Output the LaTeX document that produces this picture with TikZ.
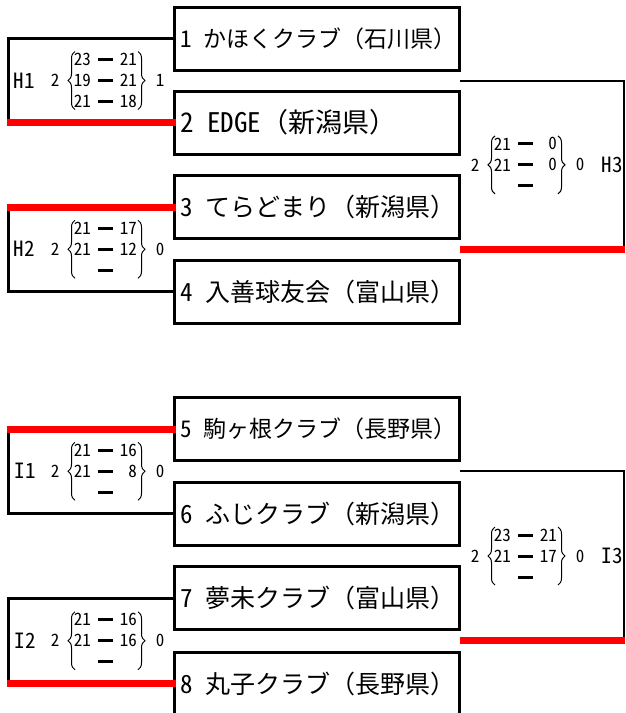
\documentclass[tikz,border=0pt]{standalone}
\usepackage{fontspec}
\newfontfamily\jp{Noto Sans CJK JP}
\newfontfamily\jph[CharacterWidth=Half]{Noto Sans CJK JP}
\usetikzlibrary{decorations.pathreplacing}
\newcommand\scrow[4]{%
  \node[sc, anchor=east] (#1l) at (21,#2) {#3};
  \draw[dashbar] (28,#2) -- (43,#2);
  \node[sc, anchor=east] (#1r) at (67,#2) {#4};
}
\newcommand\tm[3]{{\jp\fontsize{#1}{#1}\selectfont\makebox[1em][l]{\jph #2}#3}}
\begin{document}
\begin{tikzpicture}[x=1pt,y=-1pt,
  teambox/.style={draw, line width=3pt, minimum width=285pt, minimum height=63pt, inner sep=0pt, outer sep=0pt},
  teamtxt/.style={anchor=west, inner sep=0pt},
  blk/.style={line width=3pt},
  thinl/.style={line width=2pt},
  win/.style={line width=7pt, red},
  sc/.style={font=\jph\fontsize{17}{17}\selectfont, inner sep=0pt},
  lab/.style={font=\jph\fontsize{21}{21}\selectfont, inner sep=0pt},
  dashbar/.style={line width=3pt},
  lbr/.style={decorate, decoration={brace, amplitude=7pt}, line width=1pt},
]
\useasboundingbox (0,0) rectangle (625,713);

% boxes
\foreach \n/\y in {1/38.5,2/122.5,3/207,4/291.5,5/429,6/513.5,7/598,8/683.5}{
  \node[teambox] (b\n) at (316.5,\y) {};
}
\node[teamtxt] (t1) at ([xshift=6pt]b1.west) {\tm{23}{1}{かほくクラブ（石川県）}};
\node[teamtxt] (t2) at ([xshift=6pt]b2.west) {\tm{27}{2}{{\jph EDGE}（新潟県）}};
\node[teamtxt] (t3) at ([xshift=6pt]b3.west) {\tm{25}{3}{てらどまり（新潟県）}};
\node[teamtxt] (t4) at ([xshift=6pt]b4.west) {\tm{25}{4}{入善球友会（富山県）}};
\node[teamtxt] (t5) at ([xshift=6pt]b5.west) {\tm{23}{5}{駒ヶ根クラブ（長野県）}};
\node[teamtxt] (t6) at ([xshift=6pt]b6.west) {\tm{25}{6}{ふじクラブ（新潟県）}};
\node[teamtxt] (t7) at ([xshift=6pt]b7.west) {\tm{25}{7}{夢未クラブ（富山県）}};
\node[teamtxt] (t8) at ([xshift=6pt]b8.west) {\tm{25}{8}{丸子クラブ（長野県）}};

% left brackets
\coordinate (lx) at (8.5,0);
\draw[blk] (b1.west) -- (b1.west -| lx) -- (b2.west -| lx) -- (b2.west);
\draw[win, shorten <=-1.5pt, shorten >=-2pt] (b2.west -| lx) -- (b2.west);
\draw[blk] (b3.west) -- (b3.west -| lx) -- (b4.west -| lx) -- (b4.west);
\draw[win, shorten <=-1.5pt, shorten >=-2pt] (b3.west -| lx) -- (b3.west);
\draw[blk] (b5.west) -- (b5.west -| lx) -- (b6.west -| lx) -- (b6.west);
\draw[win, shorten <=-1.5pt, shorten >=-2pt] (b5.west -| lx) -- (b5.west);
\draw[blk] (b7.west) -- (b7.west -| lx) -- (b8.west -| lx) -- (b8.west);
\draw[win, shorten <=-1.5pt, shorten >=-2pt] (b8.west -| lx) -- (b8.west);

% right brackets
\coordinate (rx) at (624,0);
\coordinate (h3a) at (460,80.5);
\coordinate (h3b) at (460,249.25);
\coordinate (i3a) at (460,471.25);
\coordinate (i3b) at (460,640.75);
\draw[thinl] (h3a) -- (h3a -| rx) -- (h3b -| rx);
\draw[win, shorten >=-1pt] (h3b) -- (h3b -| rx);
\draw[thinl] (i3a) -- (i3a -| rx) -- (i3b -| rx);
\draw[win, shorten >=-1pt] (i3b) -- (i3b -| rx);

% labels
\node[lab] (h1lab) at (24,80.5) {H1};
\node[lab] (h2lab) at (24,249.25) {H2};
\node[lab] (h3lab) at (612,164.9) {H3};
\node[lab] (i1lab) at (25,471.25) {I1};
\node[lab] (i2lab) at (25,640.75) {I2};
\node[lab] (i3lab) at (612,556) {I3};

% score blocks
\begin{scope}[shift={(70,80.5)}]
  \node[sc] (h1g1) at (-15,0) {2};
  \draw[lbr] (5,29) -- (5,-29);
  \scrow{h1a}{-21}{23}{21}
  \scrow{h1b}{0}{19}{21}
  \scrow{h1c}{21}{21}{18}
  \draw[lbr] (68,-29) -- (68,29);
  \node[sc] (h1g2) at (90,0) {1};
\end{scope}
\begin{scope}[shift={(70,249.25)}]
  \node[sc] (h2g1) at (-15,0) {2};
  \draw[lbr] (5,29) -- (5,-29);
  \scrow{h2a}{-21}{21}{17}
  \scrow{h2b}{0}{21}{12}
  \scrow{h2c}{21}{}{}
  \draw[lbr] (68,-29) -- (68,29);
  \node[sc] (h2g2) at (90,0) {0};
\end{scope}
\begin{scope}[shift={(490,164.9)}]
  \node[sc] (h3g1) at (-15,0) {2};
  \draw[lbr] (5,29) -- (5,-29);
  \scrow{h3a}{-21}{21}{0}
  \scrow{h3b}{0}{21}{0}
  \scrow{h3c}{21}{}{}
  \draw[lbr] (68,-29) -- (68,29);
  \node[sc] (h3g2) at (90,0) {0};
\end{scope}
\begin{scope}[shift={(70,471.25)}]
  \node[sc] (i1g1) at (-15,0) {2};
  \draw[lbr] (5,29) -- (5,-29);
  \scrow{i1a}{-21}{21}{16}
  \scrow{i1b}{0}{21}{8}
  \scrow{i1c}{21}{}{}
  \draw[lbr] (68,-29) -- (68,29);
  \node[sc] (i1g2) at (90,0) {0};
\end{scope}
\begin{scope}[shift={(70,640.75)}]
  \node[sc] (i2g1) at (-15,0) {2};
  \draw[lbr] (5,29) -- (5,-29);
  \scrow{i2a}{-21}{21}{16}
  \scrow{i2b}{0}{21}{16}
  \scrow{i2c}{21}{}{}
  \draw[lbr] (68,-29) -- (68,29);
  \node[sc] (i2g2) at (90,0) {0};
\end{scope}
\begin{scope}[shift={(490,556)}]
  \node[sc] (i3g1) at (-15,0) {2};
  \draw[lbr] (5,29) -- (5,-29);
  \scrow{i3a}{-21}{23}{21}
  \scrow{i3b}{0}{21}{17}
  \scrow{i3c}{21}{}{}
  \draw[lbr] (68,-29) -- (68,29);
  \node[sc] (i3g2) at (90,0) {0};
\end{scope}
\end{tikzpicture}
\end{document}
